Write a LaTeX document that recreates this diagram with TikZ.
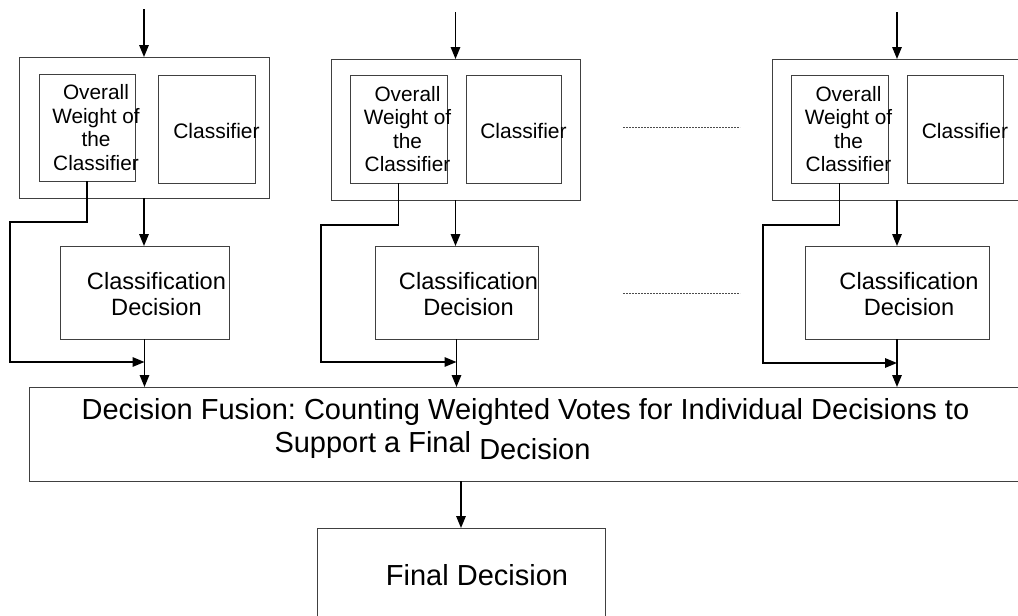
\documentclass[tikz,border=0pt]{standalone}
\usepackage{fontspec}
\setmainfont{Liberation Sans}
\usetikzlibrary{arrows.meta}
\tikzset{
  box/.style={draw=black!75,line width=1pt,inner sep=0pt,outer sep=0pt},
  wtxt/.style={font=\fontsize{20.8}{23.5}\selectfont,align=center,inner sep=0pt},
  ctxt/.style={font=\fontsize{21}{24}\selectfont,inner sep=0pt},
  dtxt/.style={font=\fontsize{23.6}{26}\selectfont,align=center,inner sep=0pt},
  ftxt/.style={font=\fontsize{29}{33}\selectfont\frenchspacing,inner sep=0pt},
  arr/.style={-{Triangle[length=12pt,width=9.5pt]},line width=1.5pt},
  dots/.style={draw=black!70,line width=0.7pt,dash pattern=on 2pt off 1pt}}
\begin{document}
\begin{tikzpicture}[x=1pt,y=-1pt]
\useasboundingbox (0,0) rectangle (1018,616);
% first classifier
\node[box, minimum width=250pt, minimum height=141pt] (out1) at (144,127.5) {};
\node[box, minimum width=96pt, minimum height=107pt,
  label={[wtxt,xshift=9pt]center:Overall\\Weight of\\the\\Classifier}] (wt1) at (87,127.5) {};
\node[box, minimum width=97pt, minimum height=108pt,
  label={[ctxt,xshift=10pt,yshift=-2pt]center:Classifier}] (cls1) at (206.5,129) {};
\node[box, minimum width=169pt, minimum height=93pt,
  label={[dtxt,xshift=12pt,yshift=-1.5pt]center:Classification\\Decision}] (cd1) at (144.5,292.5) {};
% second classifier
\node[box, minimum width=249pt, minimum height=141pt] (out2) at (455.5,129.5) {};
\node[box, minimum width=97pt, minimum height=108pt,
  label={[wtxt,xshift=9pt]center:Overall\\Weight of\\the\\Classifier}] (wt2) at (398.5,129) {};
\node[box, minimum width=95pt, minimum height=108pt,
  label={[ctxt,xshift=10pt,yshift=-2pt]center:Classifier}] (cls2) at (513.5,129) {};
\node[box, minimum width=163pt, minimum height=93pt,
  label={[dtxt,xshift=12pt,yshift=-1.5pt]center:Classification\\Decision}] (cd2) at (456.5,292.5) {};
% last classifier
\node[box, minimum width=250pt, minimum height=141pt] (out3) at (897,129.5) {};
\node[box, minimum width=97pt, minimum height=108pt,
  label={[wtxt,xshift=9pt]center:Overall\\Weight of\\the\\Classifier}] (wt3) at (839.5,129) {};
\node[box, minimum width=96pt, minimum height=108pt,
  label={[ctxt,xshift=10pt,yshift=-2pt]center:Classifier}] (cls3) at (955,129) {};
\node[box, minimum width=184pt, minimum height=93pt,
  label={[dtxt,xshift=12pt,yshift=-1.5pt]center:Classification\\Decision}] (cd3) at (897,292.5) {};
% fusion and final decision
\node[box, minimum width=993pt, minimum height=94pt,
  label={[ftxt,yshift=22pt]center:Decision Fusion: Counting Weighted Votes for Individual Decisions to},
  label={[ftxt,xshift=-93pt,yshift=-12pt]center:Support a Final \raisebox{-7pt}{Decision}}] (fus) at (525.5,434) {};
\node[box, minimum width=288pt, minimum height=94pt,
  label={[ftxt,xshift=16pt]center:Final Decision}] (fin) at (461,575) {};
% inputs, bends and merge points
\coordinate (in1) at (144,9);   \coordinate (in2) at (455.5,12); \coordinate (in3) at (897,12);
\coordinate (k1) at (10,222);   \coordinate (k2) at (321,225);   \coordinate (k3) at (763,225);
\coordinate (m1) at (144.5,362); \coordinate (m2) at (456.5,362); \coordinate (m3) at (897,363);
\draw[arr] (in1)--(out1); \draw[arr] (in2)--(out2); \draw[arr] (in3)--(out3);
\draw[arr] (out1.south)--(out1.south |- cd1.north); \draw[arr] (out2.south)--(out2.south |- cd2.north);
\draw[arr] (out3.south)--(out3.south |- cd3.north);
\draw[arr] (cd1.south)--(cd1.south |- fus.north); \draw[arr] (cd2.south)--(cd2.south |- fus.north);
\draw[arr] (cd3.south)--(cd3.south |- fus.north);
\draw[arr] (wt1.south) |- (k1) |- (m1); \draw[arr] (wt2.south) |- (k2) |- (m2);
\draw[arr] (wt3.south) |- (k3) |- (m3);
\draw[arr] (fin.north |- fus.south)--(fin.north);
\draw[dots] (623,127)--(740,127); \draw[dots] (623,293)--(740,293);
\end{tikzpicture}
\end{document}
